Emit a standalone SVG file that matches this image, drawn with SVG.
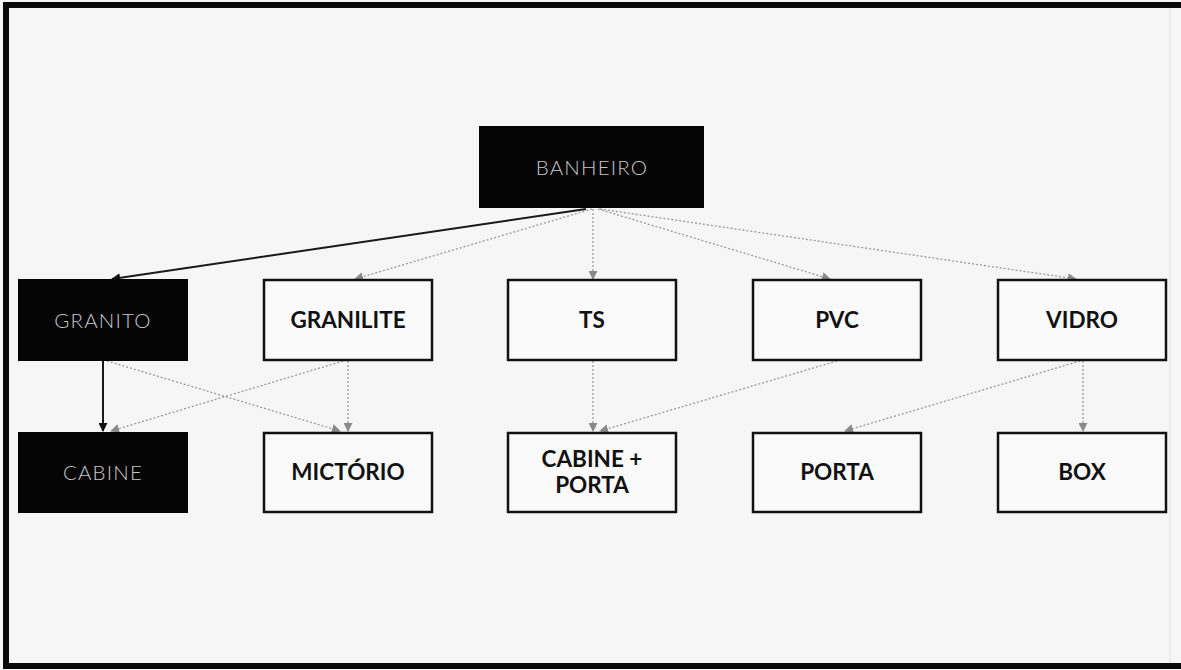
<svg xmlns="http://www.w3.org/2000/svg" width="1181" height="670" viewBox="0 0 1181 670">
<defs>
<marker id="ad" viewBox="0 0 10 10" refX="9" refY="5" markerWidth="9" markerHeight="9" markerUnits="userSpaceOnUse" orient="auto">
<path d="M0,0 L10,5 L0,10 z" fill="#111"/>
</marker>
<marker id="ag" viewBox="0 0 10 10" refX="9" refY="5" markerWidth="9" markerHeight="9" markerUnits="userSpaceOnUse" orient="auto">
<path d="M0,0 L10,5 L0,10 z" fill="#8a8a8a"/>
</marker>
</defs>
<style>
.dark rect{fill:#050505;stroke:#050505;stroke-width:2}
.dark text{fill:#c8c8c8;font-family:Lato,"Open Sans","Liberation Sans",sans-serif;font-weight:300;font-size:20.5px;letter-spacing:1.2px;text-anchor:middle}
.light rect{fill:#f9f9f9;stroke:#111;stroke-width:2.5}
.light text{fill:#111;font-family:Lato,"Open Sans","Liberation Sans",sans-serif;font-weight:700;font-size:22.5px;text-anchor:middle}
.e-dark{stroke:#1a1a1a;stroke-width:2;fill:none;marker-end:url(#ad)}
.e-gray{stroke:#9a9a9a;stroke-width:1.3;stroke-dasharray:2 2;fill:none;marker-end:url(#ag)}
</style>
<rect x="0" y="0" width="1181" height="670" fill="#f6f6f6"/>
<path d="M1181,5 L6,5 L6,666 L1181,666" fill="none" stroke="#0a0a0a" stroke-width="6"/>
<line x1="1170" y1="8" x2="1170" y2="663" stroke="#e2e2e2" stroke-width="1"/>

<g id="connectors">
<line class="e-dark" x1="586" y1="209" x2="112" y2="279"/>
<line class="e-gray" x1="592" y1="209" x2="355" y2="279"/>
<line class="e-gray" x1="593" y1="209" x2="593" y2="279"/>
<line class="e-gray" x1="598" y1="209" x2="830" y2="279"/>
<line class="e-gray" x1="600" y1="209" x2="1076" y2="279"/>
<line class="e-dark" x1="103" y1="361" x2="103" y2="431"/>
<line class="e-gray" x1="107" y1="361" x2="340" y2="431"/>
<line class="e-gray" x1="343" y1="361" x2="111" y2="431"/>
<line class="e-gray" x1="348" y1="361" x2="348" y2="431"/>
<line class="e-gray" x1="593" y1="361" x2="593" y2="431"/>
<line class="e-gray" x1="837" y1="361" x2="600" y2="431"/>
<line class="e-gray" x1="1080" y1="361" x2="845" y2="431"/>
<line class="e-gray" x1="1083" y1="361" x2="1083" y2="431"/>
</g>

<g id="banheiro" class="dark"><rect x="480" y="127" width="223" height="80"/><text x="592" y="175">BANHEIRO</text></g>

<g id="granito" class="dark"><rect x="19" y="280" width="168" height="80"/><text x="103" y="328">GRANITO</text></g>
<g id="granilite" class="light"><rect x="264" y="280" width="168" height="80"/><text x="348" y="328">GRANILITE</text></g>
<g id="ts" class="light"><rect x="508" y="280" width="168" height="80"/><text x="592" y="328">TS</text></g>
<g id="pvc" class="light"><rect x="753" y="280" width="168" height="80"/><text x="837" y="328">PVC</text></g>
<g id="vidro" class="light"><rect x="998" y="280" width="168" height="80"/><text x="1082" y="328">VIDRO</text></g>

<g id="cabine" class="dark"><rect x="19" y="433" width="168" height="79"/><text x="103" y="480">CABINE</text></g>
<g id="mictorio" class="light"><rect x="264" y="433" width="168" height="79"/><text x="348" y="480">MICTÓRIO</text></g>
<g id="cabine-porta" class="light"><rect x="508" y="433" width="168" height="79"/><text x="592" y="467">CABINE +</text><text x="592" y="493">PORTA</text></g>
<g id="porta" class="light"><rect x="753" y="433" width="168" height="79"/><text x="837" y="480">PORTA</text></g>
<g id="box" class="light"><rect x="998" y="433" width="168" height="79"/><text x="1082" y="480">BOX</text></g>
</svg>
